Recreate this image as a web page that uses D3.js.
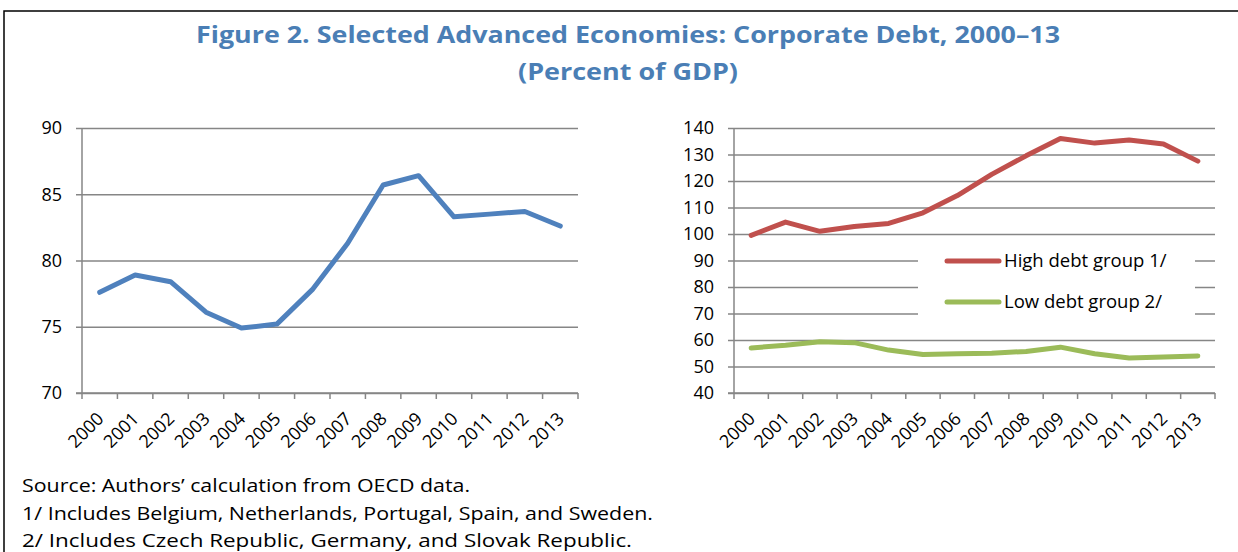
<!DOCTYPE html>
<html>
<head>
<meta charset="utf-8">
<script src="https://cdn.jsdelivr.net/npm/d3@7"></script>
<style>
  body { margin: 0; background: #fff; }
  text { font-family: "Open Sans", "Noto Sans", sans-serif; }
</style>
</head>
<body>
<script>
// data
var years = ["2000","2001","2002","2003","2004","2005","2006","2007","2008","2009","2010","2011","2012","2013"];
var allAdvanced = [77.6, 78.9, 78.4, 76.1, 74.9, 75.2, 77.8, 81.3, 85.7, 86.4, 83.3, 83.5, 83.7, 82.6];
var highDebt = [99.5, 104.5, 101, 102.8, 104, 108, 114.5, 122.5, 129.5, 136, 134.3, 135.5, 134, 127.5];
var lowDebt = [57, 58, 59.3, 59, 56.2, 54.5, 54.8, 55, 55.7, 57.3, 54.8, 53.2, 53.6, 54];
var leftTicks = [70, 75, 80, 85, 90];
var rightTicks = [40, 50, 60, 70, 80, 90, 100, 110, 120, 130, 140];
var seriesNames = ["High debt group 1/", "Low debt group 2/"];
var titleLines = ["Figure 2. Selected Advanced Economies: Corporate Debt, 2000\u201313", "(Percent of GDP)"];
var notes = ["Source: Authors\u2019 calculation from OECD data.",
  "1/ Includes Belgium, Netherlands, Portugal, Spain, and Sweden.",
  "2/ Includes Czech Republic, Germany, and Slovak Republic."];

var W = 1238, H = 552;
var axisColor = "#868686";

var svg = d3.select("body").append("svg")
  .attr("width", W)
  .attr("height", H);

// frame
svg.append("path")
  .attr("d", "M4,552 L4,11 L1240,11")
  .attr("fill", "none")
  .attr("stroke", "#000")
  .attr("stroke-width", 1.5);

// title (widths matched to the original Calibri setting)
var titleWidths = [864, 220];
svg.selectAll(".title")
  .data(titleLines).enter()
  .append("text")
  .attr("class", "title")
  .attr("x", 628)
  .attr("y", function(d, i) { return 43 + i * 37; })
  .attr("text-anchor", "middle")
  .attr("font-size", 24)
  .attr("font-weight", "bold")
  .attr("fill", "#4a7eb5")
  .attr("textLength", function(d, i) { return titleWidths[i]; })
  .attr("lengthAdjust", "spacingAndGlyphs")
  .text(function(d) { return d; });

// footnotes
var noteWidths = [448, 631, 610];
svg.selectAll(".note")
  .data(notes).enter()
  .append("text")
  .attr("class", "note")
  .attr("x", 22)
  .attr("y", function(d, i) { return 492 + i * 27.5; })
  .attr("font-size", 19)
  .attr("fill", "#000")
  .attr("textLength", function(d, i) { return noteWidths[i]; })
  .attr("lengthAdjust", "spacingAndGlyphs")
  .text(function(d) { return d; });

function drawPanel(opts) {
  var g = svg.append("g");
  var x = d3.scaleBand().domain(years).range([opts.x0, opts.x1]).padding(0);
  var y = d3.scaleLinear().domain(opts.domain).range([393, 128]);

  // gridlines + y axis
  var yAxis = d3.axisLeft(y)
    .tickValues(opts.ticks)
    .tickSize(-(opts.x1 - opts.x0))
    .tickSizeOuter(0)
    .tickPadding(20);
  var ya = g.append("g")
    .attr("transform", "translate(" + opts.x0 + ",0)")
    .call(yAxis);
  ya.select(".domain").remove();
  ya.selectAll(".tick line")
    .attr("x1", -6)
    .attr("stroke", axisColor)
    .attr("stroke-width", 1.5);
  ya.selectAll(".tick text")
    .attr("font-size", 18)
    .attr("fill", "#000");

  // axis lines
  g.append("line")
    .attr("x1", opts.x0).attr("x2", opts.x0)
    .attr("y1", y.range()[1]).attr("y2", y.range()[0])
    .attr("stroke", axisColor).attr("stroke-width", 1.5);
  g.append("line")
    .attr("x1", opts.x0 - 6).attr("x2", opts.x1)
    .attr("y1", y.range()[0]).attr("y2", y.range()[0])
    .attr("stroke", axisColor).attr("stroke-width", 1.5);

  // category boundary ticks
  var bounds = years.map(function(d) { return x(d); }).concat([opts.x1]);
  g.selectAll(".xtick")
    .data(bounds).enter()
    .append("line")
    .attr("x1", function(d) { return d; })
    .attr("x2", function(d) { return d; })
    .attr("y1", y.range()[0])
    .attr("y2", y.range()[0] + 6)
    .attr("stroke", axisColor).attr("stroke-width", 1.5);

  // rotated year labels
  g.selectAll(".xlab")
    .data(years).enter()
    .append("text")
    .attr("text-anchor", "end")
    .attr("font-size", 18)
    .attr("fill", "#000")
    .attr("transform", function(d) {
      return "translate(" + (x(d) + x.bandwidth() / 2 + 5) + ",420) rotate(-45)";
    })
    .text(function(d) { return d; });

  var line = d3.line()
    .x(function(d, i) { return x(years[i]) + x.bandwidth() / 2; })
    .y(function(d) { return y(d); });

  if (opts.legend) {
    g.append("rect")
      .attr("x", 918).attr("y", 243)
      .attr("width", 277).attr("height", 78)
      .attr("fill", "#fff");
  }

  opts.series.forEach(function(s) {
    g.append("path")
      .datum(s.values)
      .attr("d", line)
      .attr("fill", "none")
      .attr("stroke", s.color)
      .attr("stroke-width", 5)
      .attr("stroke-linejoin", "round")
      .attr("stroke-linecap", "round");
  });

  if (opts.legend) {
    var lg = g.selectAll(".legend")
      .data(opts.series).enter()
      .append("g")
      .attr("transform", function(d, i) { return "translate(947," + (261 + i * 41) + ")"; });
    lg.append("line")
      .attr("x1", 0).attr("x2", 52)
      .attr("stroke", function(d) { return d.color; })
      .attr("stroke-width", 5)
      .attr("stroke-linecap", "round");
    lg.append("text")
      .attr("x", 57)
      .attr("dy", "0.35em")
      .attr("font-size", 18.5)
      .attr("fill", "#000")
      .text(function(d) { return d.name; });
  }
}

drawPanel({
  x0: 82, x1: 578, domain: [70, 90], ticks: leftTicks,
  series: [{ name: "", values: allAdvanced, color: "#4f81bd" }]
});

drawPanel({
  x0: 734, x1: 1215, domain: [40, 140], ticks: rightTicks, legend: true,
  series: [
    { name: seriesNames[0], values: highDebt, color: "#c0504d" },
    { name: seriesNames[1], values: lowDebt, color: "#9bbb59" }
  ]
});
</script>
</body>
</html>
